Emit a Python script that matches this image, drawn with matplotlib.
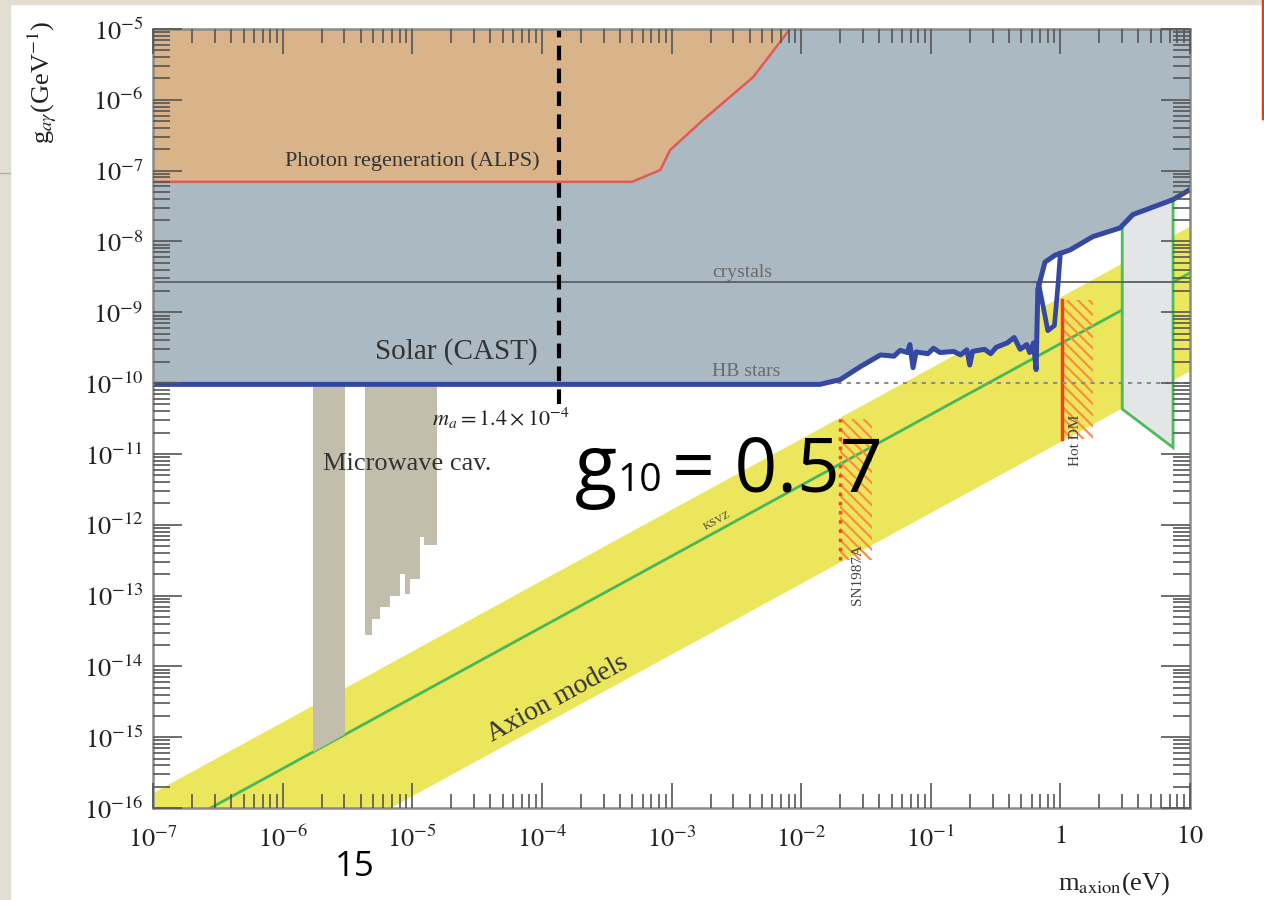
import numpy as np
import matplotlib.pyplot as plt
from matplotlib.ticker import LogLocator, NullFormatter

plt.rcParams['font.family'] = ['Liberation Serif', 'DejaVu Serif']
plt.rcParams['mathtext.fontset'] = 'stix'
plt.rcParams['hatch.linewidth'] = 1.5

# -------------------------------
# data
# -------------------------------
m_range = [1e-7, 10]
g_range = [1e-16, 1e-5]
m_ticks = [1e-7, 1e-6, 1e-5, 1e-4, 1e-3, 1e-2, 1e-1, 1, 10]
m_ticklabels = [r'$10^{-7}$', r'$10^{-6}$', r'$10^{-5}$', r'$10^{-4}$', r'$10^{-3}$',
                r'$10^{-2}$', r'$10^{-1}$', r'$1$', r'$10$']
g_exps = list(range(-16, -4))
g_ticks = [10.0 ** e for e in g_exps]
g_ticklabels = [r'$10^{%d}$' % e for e in g_exps]

# helioscope limit (CAST, blue line)
cast_m = [1e-7, 0.014, 0.020, 0.0285, 0.041, 0.052, 0.058, 0.066, 0.069, 0.073, 0.077, 0.095,
          0.105, 0.118, 0.15, 0.17, 0.19, 0.20, 0.21, 0.26, 0.29, 0.32, 0.39, 0.44, 0.49,
          0.55, 0.58, 0.62, 0.65, 0.67, 0.76, 0.91, 1.19, 1.78, 2.88, 3.63, 7.4, 10]
cast_g = [9.6e-11, 9.6e-11, 1.12e-10, 1.7e-10, 2.5e-10, 2.4e-10, 2.9e-10, 2.7e-10, 3.5e-10,
          1.65e-10, 2.75e-10, 2.6e-10, 3.1e-10, 2.7e-10, 2.8e-10, 2.5e-10, 2.95e-10, 1.8e-10,
          2.8e-10, 3.0e-10, 2.6e-10, 3.2e-10, 3.7e-10, 4.4e-10, 3.0e-10, 3.5e-10, 2.7e-10,
          3.7e-10, 1.55e-10, 2.1e-9, 5.1e-9, 6.4e-9, 7.6e-9, 1.17e-8, 1.55e-8, 2.4e-8,
          3.9e-8, 5.4e-8]
cast_loop_m = [0.68, 0.76, 0.80, 0.90, 0.96, 1.0]
cast_loop_g = [2.5e-9, 9e-10, 5.5e-10, 6.5e-10, 2.5e-9, 6.8e-9]

# photon regeneration (ALPS)
alps_m = [1e-7, 4.97e-4, 8.2e-4, 9.75e-4, 1.75e-3, 4.27e-3, 8.2e-3]
alps_g = [6.95e-8, 6.95e-8, 1.02e-7, 1.95e-7, 5.2e-7, 2.1e-6, 1e-5]

# horizontal limits
crystals_g = 2.7e-9
hb_g = 1e-10

# axion model band and KSVZ line
band_m = [1e-7, 10]
band_low = [1.5e-18, 1.5e-10]
band_high = [1.66e-16, 1.66e-8]
ksvz_g = [3.6e-17, 3.6e-9]

# microwave cavity exclusions
cav1_m = [1.7e-6, 3.0e-6]
cav1_low = [6.2e-16, 1.12e-15]
cav2_m = [4.33e-6, 4.9e-6, 5.65e-6, 6.75e-6, 8.05e-6, 8.8e-6, 9.6e-6, 1.15e-5, 1.23e-5, 1.55e-5]
cav2_low = [2.8e-14, 4.6e-14, 7e-14, 9.8e-14, 2e-13, 1.05e-13, 1.7e-13, 6.8e-13, 5.2e-13]
cav_top = 9.6e-11

# telescope region
tele_m = [3.0, 3.0, 7.4, 7.4]
tele_g = [1e-5, 4.3e-11, 1.23e-11, 1e-5]

# SN1987A and hot dark matter
sn_m = [0.020, 0.035]
sn_g = [3.2e-13, 3.1e-11]
hotdm_m = [1.03, 1.8]
hotdm_g = [1.6e-11, 1.5e-9]

# benchmark mass
ma_line = 1.35e-4
ma_g = [5e-11, 1e-5]

# -------------------------------
# figure
# -------------------------------
fig = plt.figure(figsize=(12.64, 9), dpi=100)

# slide background bits
fig.patches.append(plt.Rectangle((0, 0), 10 / 1264, 1, transform=fig.transFigure,
                                 color='#e2ded2', zorder=0))
fig.patches.append(plt.Rectangle((0, 1 - 4 / 900), 1, 4 / 900, transform=fig.transFigure,
                                 color='#e2ded2', zorder=0))
fig.lines.append(plt.Line2D([0, 10 / 1264], [1 - 173 / 900] * 2, transform=fig.transFigure,
                            color='#b5b0a5', lw=1))
fig.lines.append(plt.Line2D([1262.5 / 1264] * 2, [1, 1 - 118 / 900], transform=fig.transFigure,
                            color='#ff3300', lw=2.5))

ax = fig.add_axes([153 / 1264, 1 - 808 / 900, (1190 - 153) / 1264, (808 - 29) / 900])
ax.set_xscale('log')
ax.set_yscale('log')
ax.set_xlim(m_range)
ax.set_ylim(g_range)

# axion band
ax.fill_between(band_m, band_low, band_high, color='#ece65c', lw=0, zorder=1)
ax.plot(band_m, ksvz_g, color='#46b85a', lw=2, zorder=1.2)

# microwave cavities
ax.fill_between(cav1_m, cav1_low, [cav_top, cav_top], color='#c3beab', lw=0, zorder=1.5)
ax.fill_between(cav2_m, cav2_low + [cav2_low[-1]], cav_top, step='post',
                color='#c3beab', lw=0, zorder=1.5)

# SN1987A and hot DM hatches
ax.fill([sn_m[0], sn_m[1], sn_m[1], sn_m[0]], [sn_g[0], sn_g[0], sn_g[1], sn_g[1]],
        facecolor='none', edgecolor='#ff8a3d', hatch='\\\\\\', lw=0, zorder=1.6)
ax.plot([sn_m[0], sn_m[0]], sn_g, color='#f24a24', ls=':', lw=2.5, zorder=1.7)
ax.fill([hotdm_m[0], hotdm_m[1], hotdm_m[1], hotdm_m[0]],
        [hotdm_g[0], hotdm_g[0], hotdm_g[1], hotdm_g[1]],
        facecolor='none', edgecolor='#ff8a3d', hatch='\\\\\\', lw=0, zorder=1.6)
ax.plot([hotdm_m[0], hotdm_m[0]], hotdm_g, color='#f0401e', lw=2.5, zorder=1.7)

# telescope
ax.fill(tele_m, tele_g, facecolor='#e4e5e6', edgecolor='#4cbb5a', lw=2, zorder=1.8)

# CAST and ALPS
ax.fill_between(cast_m, cast_g, g_range[1], color='#abb9c3', lw=0, zorder=2)
ax.fill_between(alps_m, alps_g, g_range[1], color='#d9b48a', lw=0, zorder=2.1)
ax.plot(alps_m, alps_g, color='#e25a55', lw=1.8, zorder=2.2)

# crystals and HB
ax.axhline(crystals_g, color='#5a5f63', lw=1.3, zorder=2.3)
ax.axhline(hb_g, color='#8a8a8a', lw=1.5, ls=(0, (2, 2.5)), zorder=2.3)

ax.plot(cast_m, cast_g, color='#3447a2', lw=3.6, zorder=2.4, solid_joinstyle='round')
ax.plot(cast_loop_m, cast_loop_g, color='#3447a2', lw=3.4, zorder=2.4)

ax.plot([ma_line, ma_line], ma_g, color='black', lw=3, dashes=(3.5, 2), zorder=2.45)

# labels inside the plot
ax.text(1.05e-6, 1.35e-7, 'Photon regeneration (ALPS)', fontsize=16, color='#333333',
        va='center', ha='left', zorder=3)
ax.text(5.2e-6, 2.8e-10, 'Solar (CAST)', fontsize=21, color='#333333',
        va='center', ha='left', zorder=3)
ax.text(2.06e-3, 3.7e-9, 'crystals', fontsize=14, color='#6a6a6a',
        va='center', ha='left', zorder=3)
ax.text(2.06e-3, 1.45e-10, 'HB stars', fontsize=14, color='#6a6a6a',
        va='center', ha='left', zorder=3)
ax.text(1.42e-5, 3.2e-11, r'$m_a = 1.4 \times 10^{-4}$', fontsize=16, color='#222222',
        va='center', ha='left', zorder=3)
ax.text(2.05e-6, 7.1e-12, 'Microwave cav.', fontsize=19, color='#333333',
        va='center', ha='left', zorder=3)
ax.text(2.25e-3, 1.12e-12, 'KSVZ', fontsize=8, color='#444444', rotation=28.7,
        va='center', ha='center', zorder=3)
ax.text(1.32e-4, 3.5e-15, 'Axion models', fontsize=20, color='#333333', rotation=28.7,
        va='center', ha='center', zorder=3)
ax.text(0.027, 2e-13, 'SN1987A', fontsize=11, color='#444444', rotation=90,
        va='center', ha='center', zorder=3)
ax.text(1.3, 1.58e-11, 'Hot DM', fontsize=11, color='#444444', rotation=90,
        va='center', ha='center', zorder=3)

ax.text(1.8e-4, 2.95e-12, 'g', fontsize=56, family='Open Sans', color='black',
        va='baseline', ha='left', zorder=3)
ax.text(3.8e-4, 2.95e-12, '10', fontsize=28, family='Open Sans', color='black',
        va='baseline', ha='left', zorder=3)
ax.text(1.01e-3, 2.95e-12, '= 0.57', fontsize=54, family='Open Sans', color='black',
        va='baseline', ha='left', zorder=3)

# -------------------------------
# axes styling
# -------------------------------
ax.set_xticks(m_ticks)
ax.set_xticklabels(m_ticklabels)
ax.set_yticks(g_ticks)
ax.set_yticklabels(g_ticklabels)
ax.xaxis.set_minor_locator(LogLocator(base=10, subs=np.arange(2, 10), numticks=100))
ax.yaxis.set_minor_locator(LogLocator(base=10, subs=np.arange(2, 10), numticks=100))
ax.xaxis.set_minor_formatter(NullFormatter())
ax.yaxis.set_minor_formatter(NullFormatter())

ax.tick_params(which='both', direction='in', top=True, right=True, color='#555555',
               width=1.2, labelsize=19, labelcolor='#222222')
ax.tick_params(axis='x', which='major', length=18, pad=13)
ax.tick_params(axis='x', which='minor', length=10)
ax.tick_params(axis='y', which='major', length=21, pad=7)
ax.tick_params(axis='y', which='minor', length=12)

for s in ax.spines.values():
    s.set_color('#8a8a8a')
    s.set_linewidth(1.8)
    s.set_zorder(10)
ax.xaxis.set_zorder(10)
ax.yaxis.set_zorder(10)

fig.text(42 / 1264, 1 - 82 / 900, r'g$_{a\gamma}$(GeV$^{-1}$)', rotation=90,
         ha='center', va='center', fontsize=19, color='#222222')
fig.text(1058 / 1264, 1 - 897 / 900, r'm$_{\rm axion}$(eV)', ha='left', va='bottom',
         fontsize=19, color='#222222')

# slide page number
fig.text(335 / 1264, 1 - 876 / 900, '15', fontsize=25, family='Open Sans', color='black',
         ha='left', va='baseline')

fig.savefig('out.png', dpi=100)
